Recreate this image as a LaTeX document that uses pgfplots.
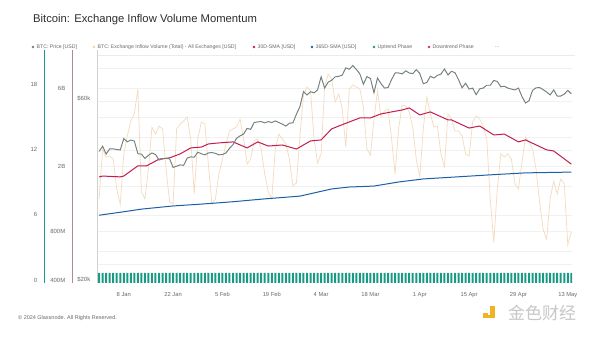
\documentclass[border=0pt]{standalone}
\usepackage{fontspec}
\setmainfont{Liberation Sans}
\newfontfamily\cjk{Noto Sans CJK SC}
\usepackage{pgfplots}
\usepackage{pgfplotstable}
\pgfplotsset{compat=1.18}
\definecolor{pricec}{HTML}{737F7D}
\definecolor{volc}{HTML}{F4DCC2}
\definecolor{smaA}{HTML}{C41C50}
\definecolor{smaB}{HTML}{1D5EA6}
\definecolor{upc}{HTML}{1A9A84}
\definecolor{downc}{HTML}{D8324B}
\definecolor{txtc}{HTML}{6A6A6A}
\definecolor{volaxis}{HTML}{A88B9E}
\definecolor{gridc}{HTML}{F1F1F1}
\definecolor{logoc}{HTML}{F0B323}

% d = days since 1 Jan 2024; price in k USD; vol in B USD
\pgfplotstableread{
d price vol phase
0 43.5 1.26 0.92
1 44.9 2.55 0.92
2 42.8 2.28 0.92
3 44.2 2.31 0.92
4 44.2 2.21 0.92
5 44.0 1.45 0.92
6 43.9 1.17 0.92
7 47.0 2.38 0.92
8 46.1 3.07 0.92
9 46.6 3.79 0.92
10 46.3 4.19 0.92
11 42.9 5.96 0.92
12 42.8 1.39 0.92
13 41.7 1.26 0.92
14 42.5 1.92 0.92
15 43.1 3.48 0.92
16 42.7 3.15 0.92
17 41.3 3.53 0.92
18 41.6 3.39 0.92
19 41.7 1.92 0.92
20 41.6 1.21 0.92
21 39.5 1.17 0.92
22 39.8 3.39 0.92
23 40.1 3.63 0.92
24 40.0 3.79 0.92
25 41.8 4.01 0.92
26 42.1 2.94 0.92
27 42.0 1.35 0.92
28 43.3 2.94 0.92
29 42.9 3.74 0.92
30 42.6 3.63 0.92
31 43.1 2.06 0.92
32 43.2 1.17 0.92
33 43.0 1.26 0.92
34 42.6 1.79 0.92
35 42.7 2.21 0.92
36 43.1 2.74 0.92
37 44.3 3.29 0.92
38 45.3 3.39 0.92
39 47.1 3.48 0.92
40 47.8 3.90 0.92
41 48.3 2.94 0.92
42 50.0 2.06 0.92
43 49.7 2.21 0.92
44 51.8 2.86 0.92
45 52.0 2.94 0.92
46 52.1 2.55 0.92
47 51.7 1.79 0.92
48 52.1 1.39 0.92
49 51.8 1.26 0.92
50 52.3 2.55 0.92
51 51.8 3.15 0.92
52 51.3 2.94 0.92
53 50.7 2.74 0.92
54 51.6 2.21 0.92
55 51.7 1.51 0.92
56 54.5 1.58 0.92
57 57.1 3.07 0.92
58 62.5 5.48 0.92
59 61.2 6.13 0.92
60 62.4 5.80 0.92
61 62.0 2.94 0.92
62 63.1 2.09 0.92
63 68.3 2.38 0.92
64 63.8 6.13 0.92
65 66.1 7.37 0.92
66 66.9 6.87 0.92
67 68.3 4.96 0.92
68 68.5 5.55 0.92
69 69.0 4.49 0.92
70 72.1 2.62 0.92
71 71.5 5.96 0.92
72 73.1 6.31 0.92
73 71.4 6.13 0.92
74 69.5 5.96 0.92
75 65.3 4.62 0.92
76 68.4 2.55 0.92
77 67.6 2.34 0.92
78 62.0 3.90 0.92
79 67.8 5.80 0.92
80 65.5 4.01 0.92
81 63.8 4.37 0.92
82 64.0 4.49 0.92
83 67.2 2.94 0.92
84 69.9 1.79 0.92
85 69.9 3.39 0.92
86 69.5 4.75 0.92
87 70.8 4.69 0.92
88 69.9 4.31 0.92
89 69.6 3.48 0.92
90 71.3 2.21 0.92
91 69.7 1.72 0.92
92 65.5 3.39 0.92
93 66.0 5.32 0.92
94 68.5 4.19 0.92
95 67.8 3.48 0.92
96 68.9 3.53 0.92
97 69.4 2.38 0.92
98 71.6 1.98 0.92
99 69.1 4.19 0.92
100 70.6 3.90 0.92
101 70.0 3.29 0.92
102 67.1 3.29 0.92
103 63.9 3.07 0.92
104 65.7 2.38 0.92
105 63.4 2.31 0.92
106 63.8 3.74 0.92
107 61.3 4.07 0.92
108 63.5 3.90 0.92
109 63.8 3.53 0.92
110 64.9 2.94 0.92
111 64.9 1.26 0.92
112 66.8 0.68 0.92
113 66.4 1.45 0.92
114 64.3 2.38 0.92
115 64.5 2.28 0.92
116 63.8 2.38 0.92
117 63.4 2.21 0.92
118 63.1 1.56 0.92
119 63.8 1.45 0.92
120 60.6 2.12 0.92
121 58.3 3.02 0.92
122 59.1 2.82 0.92
123 62.9 2.55 0.92
124 63.9 1.92 0.92
125 64.0 1.21 0.92
126 63.2 0.82 0.92
127 62.3 0.71 0.92
128 61.2 1.26 0.92
129 63.1 1.62 0.92
130 60.8 1.35 0.92
131 60.8 1.67 0.92
132 61.5 1.56 0.92
133 62.9 0.66 0.92
134 61.6 0.79 0.92
}\maindata

\pgfplotstableread{
d sma
0 1.72
1 1.74
6 1.72
7 1.74
11 2.01
13.5 2.01
17 2.21
20 2.25
23 2.38
26 2.59
29 2.62
31 2.74
34 2.78
38 2.82
42 2.59
45 2.82
48 2.66
52 2.70
56 2.55
60 2.86
63 2.90
66 3.39
68 3.53
71 3.74
74 3.96
77 3.96
80 4.19
83 4.31
86 4.43
88 4.56
91 4.13
94 4.31
99 3.85
100 3.85
105 3.43
108 3.53
112 3.11
115 3.15
119 2.82
121 2.90
127 2.52
129 2.48
134 2.06
}\smathirty

\pgfplotstableread{
d sma
0 1.00
7 1.05
12 1.09
21 1.14
29 1.17
38 1.21
47 1.26
57 1.31
66 1.45
71 1.49
78 1.51
85 1.60
92 1.67
111 1.77
121 1.82
134 1.84
}\smayear

\begin{document}
\begin{tikzpicture}
\fill[white] (0bp,0bp) rectangle (600bp,339bp);
\path[use as bounding box] (0bp,0bp) rectangle (600bp,339bp);

% title
\node[anchor=west, inner sep=0pt, text=black!82, font=\fontsize{11.3}{13}\selectfont] at (33bp,319bp) {Bitcoin: Exchange Inflow Volume Momentum};

% legend
\begin{scope}[every node/.style={anchor=west, inner sep=0pt, text=txtc, font=\fontsize{5.2}{6}\selectfont}]
\fill[pricec] (33bp,292bp) circle (1.3bp);
\node at (36.5bp,292bp) {BTC: Price [USD]};
\fill[volc!85!orange] (94bp,292bp) circle (1.3bp);
\node at (97.5bp,292bp) {BTC: Exchange Inflow Volume (Total) - All Exchanges [USD]};
\fill[smaA] (254bp,292bp) circle (1.3bp);
\node at (257.5bp,292bp) {30D-SMA [USD]};
\fill[smaB] (312bp,292bp) circle (1.3bp);
\node at (315.5bp,292bp) {365D-SMA [USD]};
\fill[upc] (374bp,292bp) circle (1.3bp);
\node at (377.5bp,292bp) {Uptrend Phase};
\fill[downc] (429bp,292bp) circle (1.3bp);
\node at (432.5bp,292bp) {Downtrend Phase};
\node at (495bp,292bp) {...};
\end{scope}

% faint top border of plot
\draw[black!8, line width=0.4bp] (97bp,284bp) -- (575bp,284bp);

% volume axis (log) with grid and x ticks
\begin{axis}[at={(97bp,56bp)}, anchor=south west, width=475bp, height=221bp, scale only axis,
  xmin=-0.6, xmax=134.2, ymode=log, ymin=0.3834, ymax=8.73,
  ytick={0.5,0.6,0.8,1,1.5,2,2.5,3,4,5,6,8}, yticklabels={},
  ymajorgrids, grid style={gridc, line width=0.5bp},
  xtick={7,21,35,49,63,77,91,105,119,133},
  xticklabels={8 Jan,22 Jan,5 Feb,19 Feb,4 Mar,18 Mar,1 Apr,15 Apr,29 Apr,13 May},
  xticklabel style={font=\fontsize{5.8}{6}\selectfont, text=txtc, yshift=-6bp},
  major tick length=0, axis line style={draw=none}, clip=false]
\addplot[volc, line width=0.75bp] table[x=d, y=vol] {\maindata};
\addplot[smaB, line width=1.0bp] table[x=d, y=sma] {\smayear};
\addplot[smaA, line width=1.0bp] table[x=d, y=sma] {\smathirty};
\end{axis}

% price axis (log)
\begin{axis}[at={(97bp,56bp)}, anchor=south west, width=475bp, height=221bp, scale only axis,
  xmin=-0.6, xmax=134.2, ymode=log, ymin=19.64, ymax=74.7, hide axis]
\addplot[pricec, line width=0.95bp] table[x=d, y=price] {\maindata};
\end{axis}

% phase bars
\begin{axis}[at={(97bp,56bp)}, anchor=south west, width=475bp, height=221bp, scale only axis,
  xmin=-0.6, xmax=134.2, ymin=0, ymax=20.31, hide axis]
\addplot[ybar, bar width=2bp, fill=upc, draw=none] table[x=d, y=phase] {\maindata};
\end{axis}

% left label axes
\pgfplotsset{labelaxis/.style={anchor=south west, width=0.5bp, height=233bp, scale only axis,
  xmin=0, xmax=1, axis y line*=left, axis x line=none, major tick length=0,
  yticklabel style={font=\fontsize{6}{7}\selectfont, text=txtc, inner sep=0pt, xshift=-6.5bp},
  /pgf/number format/assume math mode=true}}
\begin{axis}[labelaxis, at={(44bp,56bp)}, ymin=-0.276, ymax=21.14, ytick={0,6,12,18},
  axis line style={upc, line width=0.9bp}]
\end{axis}
\begin{axis}[labelaxis, at={(72bp,56bp)}, ymode=log, ymin=0.3834, ymax=10.35, ytick={0.4,0.8,2,6},
  yticklabels={400M,800M,2B,6B}, axis line style={volaxis, line width=0.7bp}]
\end{axis}
\begin{axis}[labelaxis, at={(97bp,56bp)}, ymode=log, ymin=19.64, ymax=80.3, ytick={20,60},
  yticklabels={\$20k,\$60k}, axis line style={black!18, line width=0.6bp}]
\end{axis}

% footer
\node[anchor=west, inner sep=0pt, text=txtc, font=\fontsize{5.5}{6}\selectfont] at (18bp,21bp) {\textcopyright{} 2024 Glassnode. All Rights Reserved.};

% watermark logo
\fill[logoc] (483bp,22bp) rectangle (487.5bp,26bp);
\fill[logoc] (490bp,21bp) rectangle (495bp,33bp);
\fill[logoc] (483bp,21bp) rectangle (495bp,23.5bp);
\node[anchor=west, inner sep=0pt, text=black!22, font=\cjk\fontsize{17}{18}\selectfont] at (508bp,26bp) {金色财经};
\end{tikzpicture}
\end{document}
